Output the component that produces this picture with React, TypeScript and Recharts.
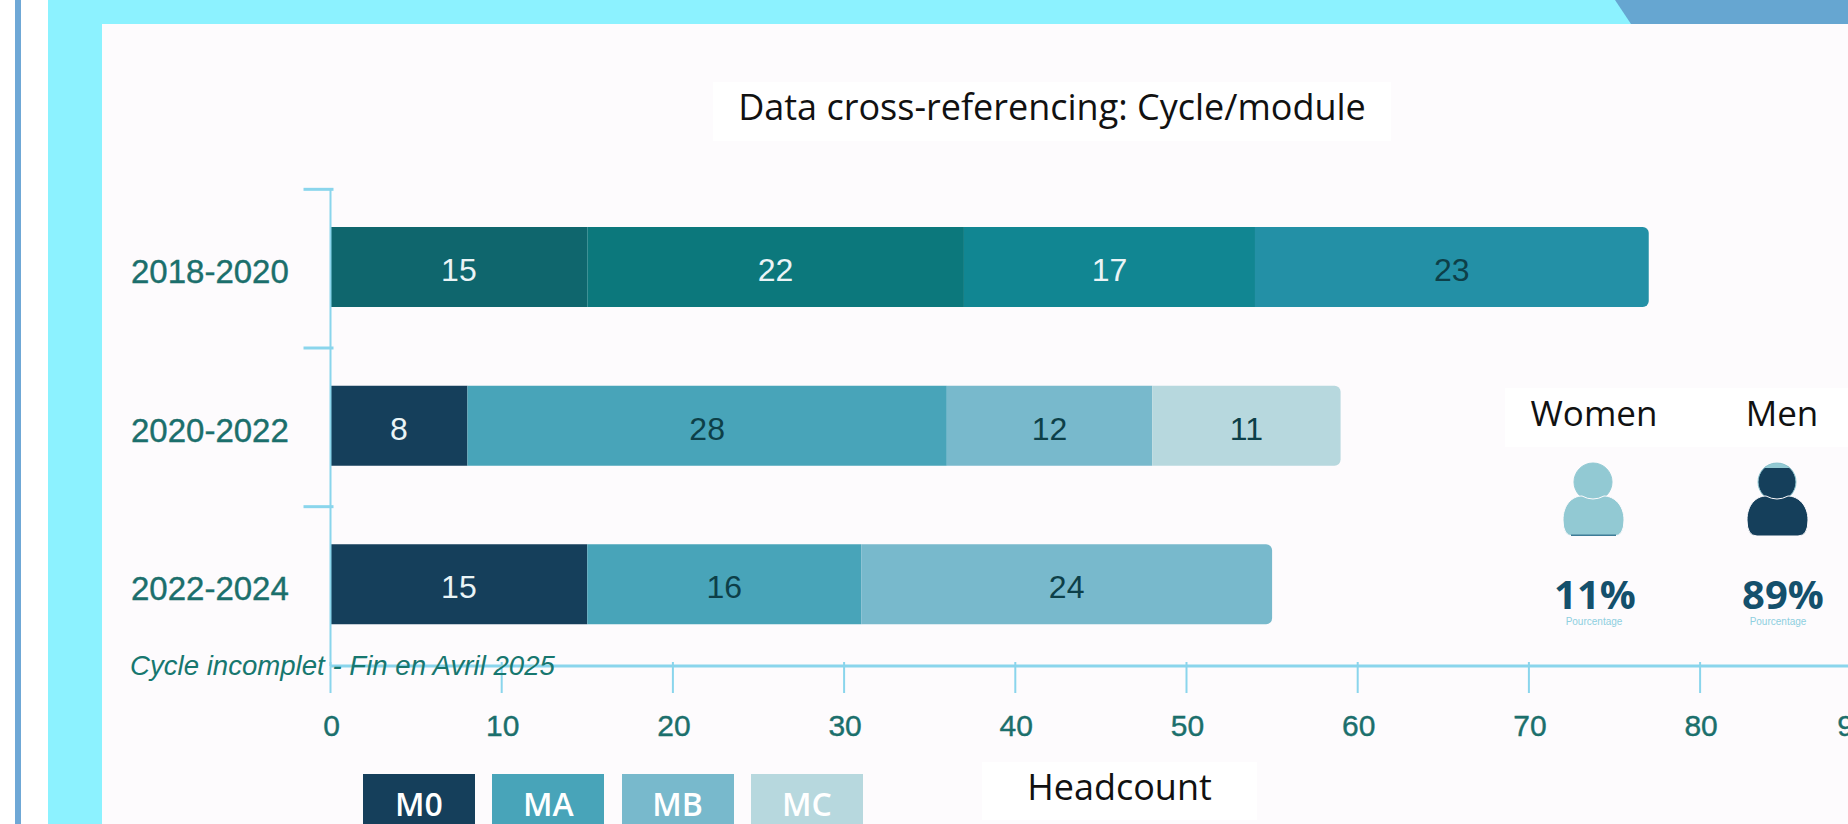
import { BarChart, Bar, Cell, LabelList, XAxis, YAxis } from 'recharts';

const cycles = ['2018-2020', '2020-2022', '2022-2024'];
const m0Values = [15, 8, 15];
const maValues = [22, 28, 16];
const mbValues = [17, 12, 24];
const mcValues = [23, 11, null];

const xTicks = [0, 10, 20, 30, 40, 50, 60, 70, 80, 90];

const moduleNames = ['M0', 'MA', 'MB', 'MC'];
const moduleColors = ['#153F5B', '#48A4B9', '#78B9CC', '#B7D8DE'];
// the first cycle is drawn in its own teal shades
const firstCycleColors = ['#0F666D', '#0C787C', '#118692', '#2390A6'];
// one label colour per cycle, per module
const labelColors = [
  ['#EAF4F6', '#EAF4F6', '#EAF4F6'],
  ['#EAF4F6', '#0D3F48', '#0D3F48'],
  ['#EAF4F6', '#0D3F48', '#0D3F48'],
  ['#0D3F48', '#0D3F48', '#0D3F48'],
];

const genderNames = ['Women', 'Men'];
const genderShares = ['11%', '89%'];

const chartData = cycles.map((cycle, i) => ({
  cycle,
  M0: m0Values[i],
  MA: maValues[i],
  MB: mbValues[i],
  MC: mcValues[i],
}));

const AXIS = '#8AD5EC';
const TEAL_TEXT = '#1B6F6C';
const SANS = '"Liberation Sans", Arial, sans-serif';
const OPEN = '"Open Sans", sans-serif';

function CycleTick({ x, y, payload }: any) {
  return (
    <g>
      <line x1={x - 27} x2={x + 3} y1={y - 78} y2={y - 78} stroke={AXIS} strokeWidth={3} />
      <text x={131} y={y + 4} fontFamily={SANS} fontSize={33} fill={TEAL_TEXT} stroke={TEAL_TEXT} strokeWidth={0.4} dominantBaseline="central">
        {payload.value}
      </text>
    </g>
  );
}

function CountTick({ x, y, payload }: any) {
  // the last label sits inside the picture's right edge, cut off as in the source
  const labelX = Math.min(x + 1, 1854);
  return (
    <g>
      <line x1={x} x2={x} y1={y - 4} y2={y + 27} stroke={AXIS} strokeWidth={2} />
      <text x={labelX} y={y + 59} fontFamily={SANS} fontSize={30} fill={TEAL_TEXT} stroke={TEAL_TEXT} strokeWidth={0.4} textAnchor="middle" dominantBaseline="central">
        {payload.value}
      </text>
    </g>
  );
}

const segmentLabel = (seriesIndex: number) => (props: any) => {
  const { x, y, width, height, value, index } = props;
  if (value == null) return null;
  return (
    <text
      x={x + width / 2}
      y={y + height / 2 + 3}
      fontFamily={SANS}
      fontSize={32}
      fill={labelColors[seriesIndex][index]}
      textAnchor="middle"
      dominantBaseline="central"
    >
      {value}
    </text>
  );
};

function Person({ left, body, cap, stripe }: { left: number; body: string; cap?: string; stripe?: string }) {
  return (
    <svg width={64} height={80} style={{ position: 'absolute', left, top: 460 }}>
      <circle cx={31} cy={22} r={19} fill={body} stroke="#92C9D3" strokeWidth={1} />
      {cap && <path d="M18.2 8 A19 19 0 0 1 43.8 8 Z" fill={cap} />}
      <path d="M1 60 C1 45 10 36 20 36 Q31 42 42 36 C52 36 62 45 62 60 Q62 76 52 76 L11 76 Q1 76 1 60 Z" fill={body} stroke="#FDFBFD" strokeWidth={1} />
      {stripe && <rect x={9} y={74.5} width={45} height={1.5} fill={stripe} />}
    </svg>
  );
}

export default function App() {
  return (
    <div style={{ position: 'absolute', left: 0, top: 0, width: 1848, height: 824, overflow: 'hidden', background: '#FFFFFF' }}>
      <div style={{ position: 'absolute', left: 15, top: 0, width: 6, height: 824, background: '#6FA8D6' }} />
      <div style={{ position: 'absolute', left: 48, top: 0, width: 1800, height: 824, background: '#8CF2FF' }} />
      <div style={{ position: 'absolute', left: 1600, top: 0, width: 248, height: 24, background: '#66A6D1', clipPath: 'polygon(15px 0, 100% 0, 100% 100%, 31px 100%)' }} />
      <div style={{ position: 'absolute', left: 102, top: 24, width: 1746, height: 800, background: '#FDFBFD' }} />

      <div style={{ position: 'absolute', left: 0, top: 0 }}>
        <BarChart
          width={1900}
          height={824}
          data={chartData}
          layout="vertical"
          margin={{ top: 188, right: 28.7, bottom: 0, left: 0 }}
          barCategoryGap={0}
        >
          <XAxis
            type="number"
            domain={[0, 90]}
            ticks={xTicks}
            interval={0}
            tickLine={false}
            tickSize={0}
            tickMargin={0}
            height={158}
            axisLine={{ stroke: AXIS, strokeWidth: 3 }}
            tick={<CountTick />}
          />
          <YAxis
            type="category"
            dataKey="cycle"
            width={330.5}
            padding={{ top: 0, bottom: 2 }}
            tickLine={false}
            tickSize={0}
            tickMargin={0}
            axisLine={{ stroke: AXIS, strokeWidth: 2 }}
            tick={<CycleTick />}
          />
          <Bar dataKey="M0" stackId="cycle" barSize={80} fill={moduleColors[0]} isAnimationActive={false}>
            {cycles.map((c, i) => <Cell key={c} fill={i === 0 ? firstCycleColors[0] : moduleColors[0]} />)}
            <LabelList dataKey="M0" content={segmentLabel(0)} />
          </Bar>
          <Bar dataKey="MA" stackId="cycle" barSize={80} fill={moduleColors[1]} isAnimationActive={false}>
            {cycles.map((c, i) => <Cell key={c} fill={i === 0 ? firstCycleColors[1] : moduleColors[1]} />)}
            <LabelList dataKey="MA" content={segmentLabel(1)} />
          </Bar>
          <Bar dataKey="MB" stackId="cycle" barSize={80} fill={moduleColors[2]} isAnimationActive={false}>
            {cycles.map((c, i) => (
              <Cell
                key={c}
                fill={i === 0 ? firstCycleColors[2] : moduleColors[2]}
                radius={mcValues[i] == null ? [0, 6, 6, 0] : 0}
              />
            ))}
            <LabelList dataKey="MB" content={segmentLabel(2)} />
          </Bar>
          <Bar dataKey="MC" stackId="cycle" barSize={80} fill={moduleColors[3]} radius={[0, 6, 6, 0]} isAnimationActive={false}>
            {cycles.map((c, i) => <Cell key={c} fill={i === 0 ? firstCycleColors[3] : moduleColors[3]} />)}
            <LabelList dataKey="MC" content={segmentLabel(3)} />
          </Bar>
        </BarChart>
      </div>

      {/* title */}
      <div style={{ position: 'absolute', left: 713, top: 82, width: 678, height: 59, background: '#FFFFFF', fontFamily: OPEN, fontSize: 36, lineHeight: '50px', textAlign: 'center', color: '#111111', whiteSpace: 'nowrap' }}>
        Data cross-referencing: Cycle/module
      </div>

      {/* note over the axis */}
      <div style={{ position: 'absolute', left: 130, top: 648, fontFamily: SANS, fontStyle: 'italic', fontSize: 27.6, lineHeight: '36px', color: '#17776F', whiteSpace: 'nowrap' }}>
        Cycle incomplet - Fin en Avril 2025
      </div>

      {/* axis title */}
      <div style={{ position: 'absolute', left: 982, top: 762, width: 275, height: 58, background: '#FFFFFF', fontFamily: OPEN, fontSize: 36, lineHeight: '50px', textAlign: 'center', color: '#111111' }}>
        Headcount
      </div>

      {/* legend */}
      {moduleNames.map((name, i) => (
        <div
          key={name}
          style={{ position: 'absolute', left: 363 + i * 129.3, top: 774, width: 112, height: 50, background: moduleColors[i], color: '#FFFFFF', fontFamily: OPEN, fontWeight: 600, fontSize: 32, lineHeight: '60px', textAlign: 'center', overflow: 'hidden' }}
        >
          {name}
        </div>
      ))}

      {/* women / men panel */}
      <div style={{ position: 'absolute', left: 1505, top: 388, width: 343, height: 59, background: '#FFFFFF' }} />
      {genderNames.map((name, i) => (
        <div key={name} style={{ position: 'absolute', left: i === 0 ? 1494 : 1682, top: 388, width: 200, height: 50, fontFamily: OPEN, fontSize: 35, lineHeight: '50px', textAlign: 'center', color: '#111111' }}>
          {name}
        </div>
      ))}
      <Person left={1562} body="#92C9D3" stripe="#3E7C97" />
      <Person left={1746} body="#153F5B" cap="#92C9D3" />
      {genderShares.map((share, i) => (
        <div key={share} style={{ position: 'absolute', left: i === 0 ? 1495 : 1683, top: 573, width: 200, fontFamily: OPEN, fontWeight: 700, fontSize: 40, lineHeight: '42px', textAlign: 'center', color: '#14506C' }}>
          {share}
        </div>
      ))}
      {genderShares.map((share, i) => (
        <div key={share} style={{ position: 'absolute', left: i === 0 ? 1494 : 1678, top: 615, width: 200, fontFamily: SANS, fontSize: 10, lineHeight: '14px', textAlign: 'center', color: '#8ECFE0' }}>
          Pourcentage
        </div>
      ))}
    </div>
  );
}
